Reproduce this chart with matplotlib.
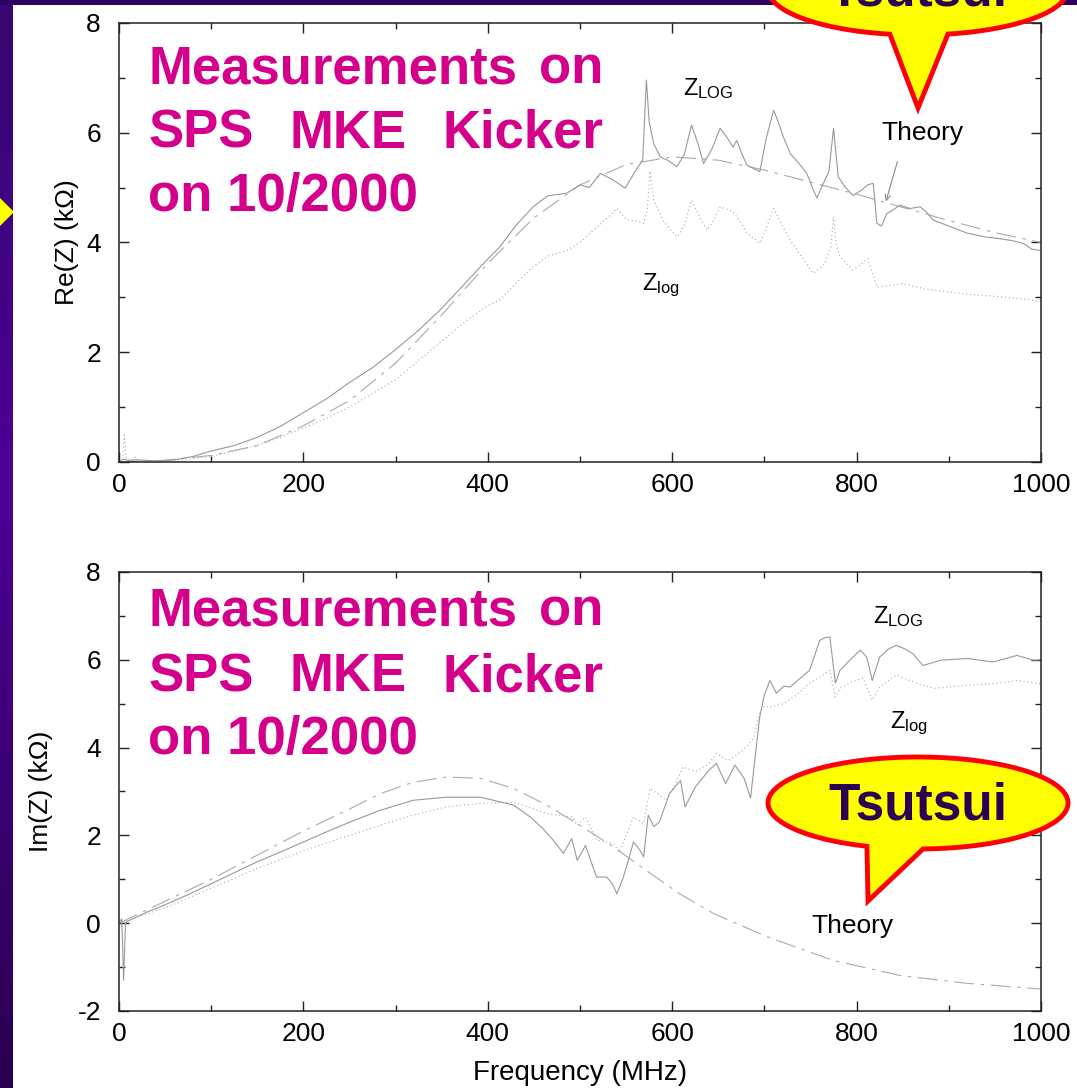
import numpy as np
import matplotlib
matplotlib.use('Agg')
import matplotlib.pyplot as plt
from matplotlib.patches import Polygon
from matplotlib.colors import LinearSegmentedColormap
from matplotlib.ticker import MultipleLocator

plt.rcParams['font.family'] = ['Liberation Sans', 'DejaVu Sans']
plt.rcParams['axes.unicode_minus'] = False

# --- Re(Z) panel: measured Z_LOG (solid), Z_log (dotted), theory (dash-dot)
re_log_f = [0, 5, 10, 20, 40, 60, 80, 100, 125, 150, 175, 200, 225, 250, 275, 300, 325, 350, 375, 400,
            413, 430, 449, 465, 486, 500, 510, 522, 535, 549, 560, 568, 572, 575, 580, 587, 595, 605,
            613, 621, 628, 634, 643, 652, 660, 666, 670, 676, 681, 688, 695, 702, 710, 715, 720, 728,
            737, 746, 752, 757, 764, 770, 775, 780, 788, 796, 805, 812, 818, 822, 827, 833, 840, 847,
            858, 869, 876, 883, 900, 920, 940, 955, 970, 981, 990, 1000]
re_log_v = [0.02, 0.05, 0.03, 0.04, 0.02, 0.04, 0.1, 0.2, 0.3, 0.45, 0.65, 0.9, 1.15, 1.45, 1.72, 2.05,
            2.4, 2.8, 3.25, 3.7, 3.92, 4.3, 4.65, 4.85, 4.9, 5.05, 5.0, 5.26, 5.15, 4.99, 5.3, 5.5, 6.96,
            6.2, 5.8, 5.56, 5.5, 5.38, 5.6, 6.14, 5.8, 5.44, 5.7, 6.08, 5.9, 5.74, 5.86, 5.6, 5.41, 5.35,
            5.29, 5.9, 6.41, 6.2, 5.95, 5.62, 5.45, 5.26, 5.0, 4.81, 5.08, 5.3, 6.08, 5.2, 5.0, 4.86,
            4.95, 5.05, 5.08, 4.35, 4.3, 4.53, 4.6, 4.68, 4.62, 4.65, 4.55, 4.41, 4.3, 4.17, 4.1, 4.07,
            4.03, 3.98, 3.88, 3.85]

re_low_f = [0, 4, 6, 8, 12, 18, 20, 25, 50, 75, 100, 125, 150, 175, 200, 225, 250, 275, 300, 325, 350,
            375, 400, 413, 430, 449, 465, 486, 500, 515, 530, 540, 551, 560, 569, 573, 576, 580, 590,
            605, 613, 621, 630, 638, 645, 652, 660, 666, 675, 681, 695, 703, 710, 718, 728, 740, 753,
            765, 772, 775, 778, 782, 796, 805, 812, 822, 830, 850, 875, 900, 925, 950, 975, 1000]
re_low_v = [0.02, 0.05, 0.49, 0.05, 0.02, 0.1, 0.02, 0.02, 0.02, 0.05, 0.1, 0.2, 0.3, 0.45, 0.62, 0.8,
            1.0, 1.25, 1.5, 1.85, 2.2, 2.55, 2.85, 2.95, 3.25, 3.56, 3.75, 3.86, 4.0, 4.23, 4.45, 4.62,
            4.41, 4.4, 4.35, 4.6, 5.3, 4.77, 4.4, 4.1, 4.3, 4.77, 4.45, 4.23, 4.4, 4.65, 4.6, 4.56, 4.35,
            4.17, 3.99, 4.3, 4.62, 4.35, 4.04, 3.75, 3.44, 3.6, 3.9, 4.47, 3.95, 3.74, 3.5, 3.6, 3.71,
            3.19, 3.2, 3.25, 3.15, 3.1, 3.05, 3.02, 2.98, 2.93]

re_th_f = [0, 50, 100, 150, 200, 250, 300, 350, 400, 450, 500, 550, 600, 650, 700, 750, 800, 850, 900,
           950, 1000]
re_th_v = [0, 0.03, 0.12, 0.3, 0.66, 1.12, 1.8, 2.68, 3.62, 4.45, 5.05, 5.42, 5.56, 5.5, 5.32, 5.1,
           4.88, 4.64, 4.4, 4.18, 4.0]

# --- Im(Z) panel
im_log_f = [0, 3, 5, 7, 10, 20, 30, 50, 75, 100, 125, 150, 175, 200, 225, 250, 283, 319, 355, 392, 428,
            446, 460, 471, 482, 491, 497, 506, 512, 518, 529, 535, 540, 547, 552, 558, 565, 569, 574,
            580, 586, 597, 609, 614, 625, 640, 648, 658, 668, 678, 685, 690, 695, 700, 706, 713, 721,
            728, 740, 749, 760, 765, 771, 777, 782, 793, 804, 811, 817, 825, 835, 843, 852, 861, 872,
            891, 920, 948, 974, 992, 1000]
im_log_v = [0.0, 0.1, -1.3, 0.0, 0.05, 0.15, 0.25, 0.42, 0.65, 0.9, 1.15, 1.4, 1.62, 1.85, 2.08, 2.3,
            2.57, 2.8, 2.87, 2.87, 2.69, 2.42, 2.15, 1.89, 1.59, 1.93, 1.43, 1.77, 1.4, 1.05, 1.05, 0.9,
            0.67, 1.05, 1.4, 1.85, 1.66, 1.51, 2.46, 2.2, 2.3, 2.95, 3.25, 2.65, 3.1, 3.49, 3.64, 3.18,
            3.6, 3.3, 2.85, 3.8, 4.7, 5.2, 5.53, 5.24, 5.4, 5.38, 5.6, 5.76, 6.44, 6.5, 6.52, 5.47,
            5.76, 6.0, 6.22, 6.06, 5.53, 6.06, 6.25, 6.33, 6.25, 6.14, 5.87, 5.99, 6.03, 5.95, 6.1,
            5.99, 6.0]

im_low_f = [0, 25, 50, 75, 100, 125, 150, 175, 200, 225, 250, 283, 319, 355, 392, 428, 464, 491, 497,
            506, 518, 536, 543, 558, 569, 576, 594, 605, 612, 625, 640, 648, 660, 675, 688, 695, 700,
            706, 721, 735, 749, 760, 771, 777, 782, 795, 807, 817, 825, 843, 865, 884, 920, 956, 974,
            995, 1000]
im_low_v = [0.0, 0.18, 0.35, 0.57, 0.8, 1.02, 1.25, 1.45, 1.65, 1.83, 2.0, 2.23, 2.46, 2.65, 2.73, 2.76,
            2.5, 2.42, 2.23, 2.42, 1.89, 1.82, 1.62, 2.42, 2.27, 3.07, 2.8, 3.25, 3.56, 3.45, 3.64,
            3.87, 3.7, 3.9, 4.2, 4.8, 4.95, 4.92, 5.0, 5.2, 5.47, 5.6, 5.76, 5.15, 5.35, 5.5, 5.58,
            5.08, 5.38, 5.65, 5.47, 5.35, 5.42, 5.47, 5.53, 5.47, 5.45]

im_th_f = [0, 50, 100, 150, 200, 250, 283, 319, 355, 392, 428, 464, 500, 536, 572, 608, 645, 703, 775,
           847, 920, 988, 1000]
im_th_v = [0, 0.5, 1.0, 1.55, 2.1, 2.6, 2.95, 3.21, 3.33, 3.30, 3.07, 2.69, 2.23, 1.74, 1.2, 0.67, 0.22,
           -0.31, -0.85, -1.19, -1.37, -1.48, -1.5]

title_lines = ['Measurements on', 'SPS  MKE  Kicker', 'on 10/2000']

W, H = 1077, 1088
fig = plt.figure(figsize=(W / 100, H / 100), dpi=100, facecolor='white')


def px_axes(left, top, right, bottom, **kw):
    return fig.add_axes([left / W, 1 - bottom / H, (right - left) / W, (bottom - top) / H], **kw)


ax1 = px_axes(119, 23, 1041, 462)
ax2 = px_axes(119, 572, 1041, 1011)

solid = dict(color='#999999', lw=0.8)
dotted = dict(color='#a8a8a8', lw=0.8, ls=(0, (1, 2.5)))
theory = dict(color='#aaaaaa', lw=0.8, ls=(0, (18, 6, 3, 6)))

for ax, (lf, lv, sf, sv, tf, tv) in [
        (ax1, (re_log_f, re_log_v, re_low_f, re_low_v, re_th_f, re_th_v)),
        (ax2, (im_log_f, im_log_v, im_low_f, im_low_v, im_th_f, im_th_v))]:
    ax.plot(tf, tv, **theory)
    ax.plot(sf, sv, **dotted)
    ax.plot(lf, lv, **solid)
    ax.set_xlim(0, 1000)
    ax.xaxis.set_major_locator(MultipleLocator(200))
    ax.xaxis.set_minor_locator(MultipleLocator(100))
    ax.yaxis.set_major_locator(MultipleLocator(2))
    ax.yaxis.set_minor_locator(MultipleLocator(1))
    ax.tick_params(which='both', direction='in', top=True, right=True, width=1, colors='#222222',
                   labelcolor='black', labelsize=19)
    ax.tick_params(axis='y', which='both', pad=13)
    ax.tick_params(axis='x', which='both', pad=8)
    ax.tick_params(which='major', length=7)
    ax.tick_params(which='minor', length=4)
    for s in ax.spines.values():
        s.set_linewidth(1.1)
        s.set_color('#222222')

ax1.set_ylim(0, 8)
ax2.set_ylim(-2, 8)

ax1.set_ylabel('Re(Z) (k\u03a9)', fontsize=19, va='center')
ax1.yaxis.set_label_coords(-0.0564, 0.5)
ax2.set_ylabel('Im(Z) (k\u03a9)', fontsize=19, va='center')
ax2.yaxis.set_label_coords(-0.0846, 0.5)
ax2.set_xlabel('Frequency (MHz)', fontsize=20, va='center')
ax2.xaxis.set_label_coords(0.5, -0.141)

# curve labels
ax1.text(612, 6.68, r'$\mathregular{Z_{LOG}}$', fontsize=17, va='baseline')
ax1.text(567, 3.13, r'$\mathregular{Z_{log}}$', fontsize=17, va='baseline')
ax1.text(871, 5.99, 'Theory', fontsize=19, ha='center', va='center')
ax1.annotate('', xy=(831, 4.70), xytext=(845, 5.52),
             arrowprops=dict(arrowstyle='->', color='#888888', lw=0.8))
ax2.text(818, 6.83, r'$\mathregular{Z_{LOG}}$', fontsize=17, va='baseline')
ax2.text(836, 4.44, r'$\mathregular{Z_{log}}$', fontsize=17, va='baseline')
ax2.text(796, -0.07, 'Theory', fontsize=19, ha='center', va='center')

# slide decorations in pixel coordinates
ov = fig.add_axes([0, 0, 1, 1])
ov.axis('off')
cmap = LinearSegmentedColormap.from_list('slide', [(0, '#380870'), (0.45, '#4c0096'), (1, '#2a0050')])
ov.imshow(np.linspace(0, 1, 256).reshape(-1, 1), extent=[0, 13, H, 0], aspect='auto', cmap=cmap)
ov.add_patch(plt.Rectangle((0, 0), W, 5, color='#2e0060', lw=0))
ov.add_patch(Polygon([(0, 198), (14, 212), (0, 226)], closed=True, fc='#ffff00', ec='none'))
ov.set_xlim(0, W)
ov.set_ylim(H, 0)

magenta = '#d4008c'
for dy in (0, 543):
    ov.text(148, 83 + dy, title_lines[0].split()[0], fontsize=38, weight='bold', color=magenta)
    ov.text(603, 83 + dy, title_lines[0].split()[1], fontsize=38, weight='bold', color=magenta, ha='right')
    w2 = title_lines[1].split()
    ov.text(148, 148 + dy, w2[0], fontsize=38, weight='bold', color=magenta)
    ov.text(348, 148 + dy, w2[1], fontsize=38, weight='bold', color=magenta, ha='center')
    ov.text(603, 148 + dy, w2[2], fontsize=38, weight='bold', color=magenta, ha='right')
    ov.text(148, 211 + dy, title_lines[2], fontsize=38, weight='bold', color=magenta)


def callout(cx, cy, t_left, t_right, tip, base):
    t = np.radians(np.linspace(t_left, t_right + 360, 240))
    pts = np.column_stack([np.r_[cx + 150 * np.cos(t), tip[0]], np.r_[cy + 46 * np.sin(t), tip[1]]])
    ov.add_patch(Polygon(pts, closed=True, fc='#ffff00', ec='#ff0000', lw=3.5, joinstyle='miter',
                         clip_on=False))
    ov.text(cx, base, 'Tsutsui', fontsize=37, weight='bold', color='#2a0050', ha='center',
            va='baseline', clip_on=False)


callout(918, -11, 100.8, 78.5, (918, 108), 6)
callout(918, 803, 109.9, 88.1, (868, 901), 820)

fig.savefig('out.png', dpi=100)
